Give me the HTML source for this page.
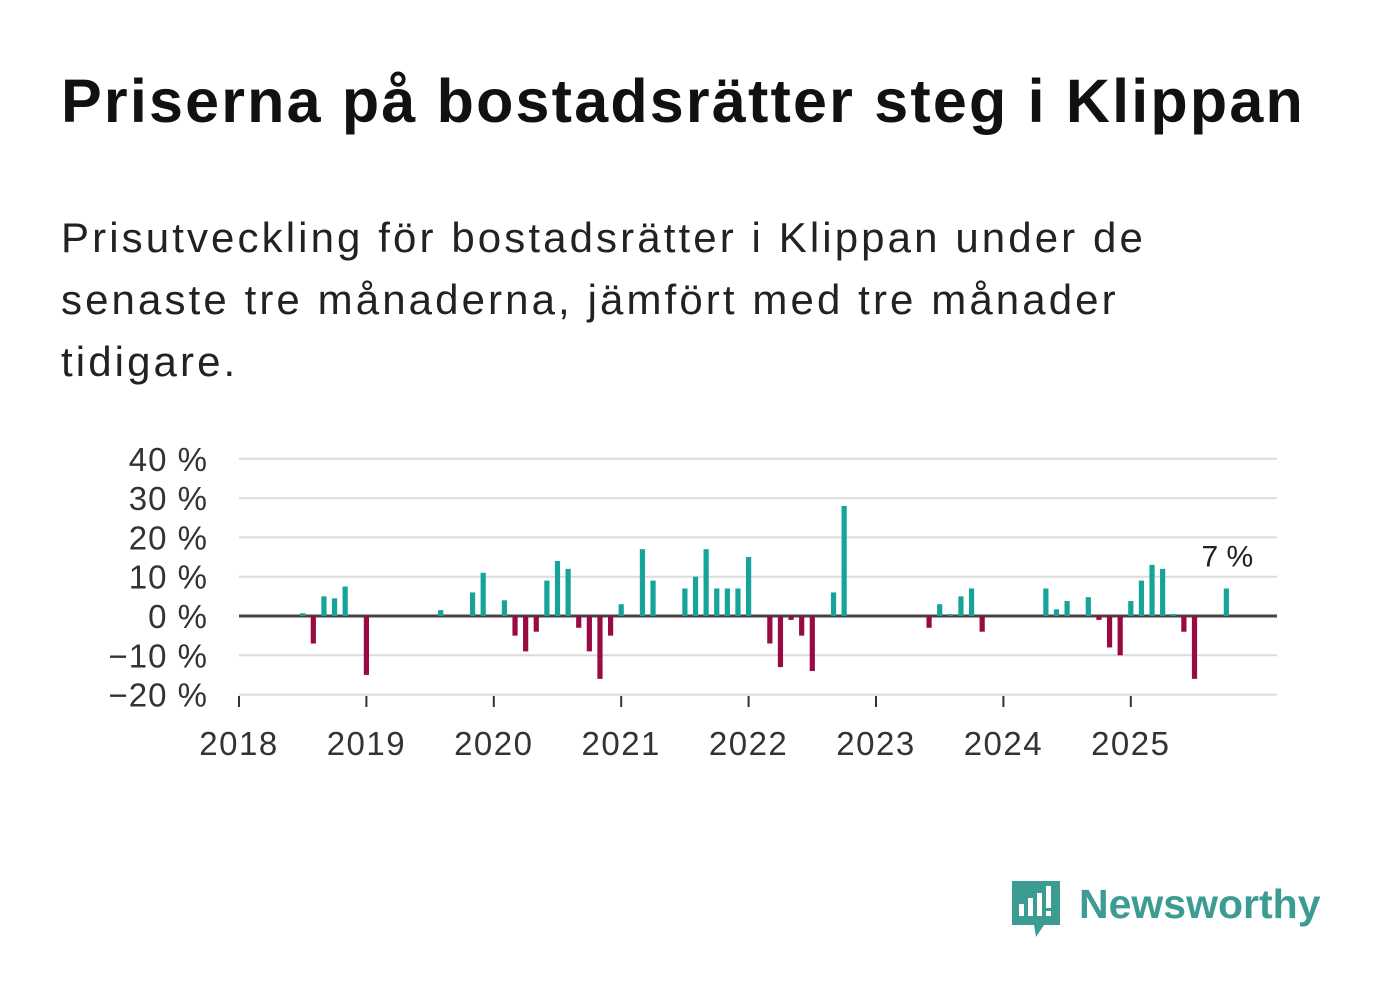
<!DOCTYPE html>
<html><head><meta charset="utf-8"><style>
body{margin:0;width:1382px;height:999px;background:#fff;overflow:hidden;font-family:"Liberation Sans","DejaVu Sans",sans-serif;color:#111}
h1{position:absolute;left:61px;top:66px;margin:0;font-size:61px;font-weight:bold;letter-spacing:2.2px;white-space:nowrap}
p{position:absolute;left:61px;top:207px;margin:0;font-size:42px;line-height:62px;letter-spacing:3.1px;white-space:nowrap;color:#222}
svg{position:absolute;left:0;top:0}
</style></head><body>
<h1>Priserna på bostadsrätter steg i Klippan</h1>
<p>Prisutveckling för bostadsrätter i Klippan under de<br>senaste tre månaderna, jämfört med tre månader<br>tidigare.</p>
<svg id="chart" width="1382" height="999"></svg>
<script>
const monthIndex=[6,7,8,9,10,12,19,22,23,25,26,27,28,29,30,31,32,33,34,35,36,38,39,42,43,44,45,46,47,48,50,51,52,53,54,56,57,65,66,67,68,69,70,76,77,78,80,81,82,83,84,85,86,87,88,89,90,93];
const values=[0.7,-7,5,4.5,7.5,-15,1.5,6,11,4,-5,-9,-4,9,14,12,-3,-9,-16,-5,3,17,9,7,10,17,7,7,7,15,-7,-13,-1,-5,-14,6,28,-3,3,0.5,5,7,-4,7,1.7,3.8,4.8,-1,-8,-10,3.8,9,13,12,0.5,-4,-16,7];
const yTicks=[40,30,20,10,0,-10,-20];
const years=[2018,2019,2020,2021,2022,2023,2024,2025];
const NS='http://www.w3.org/2000/svg';
const svg=document.getElementById('chart');
const x0=239,xMonth=127.4/12,y0=616,yPer=3.93;
const xs=m=>x0+m*xMonth, ys=v=>y0-v*yPer;
function mk(t,a,txt){const e=document.createElementNS(NS,t);for(const k in a)e.setAttribute(k,a[k]);if(txt!==undefined)e.textContent=txt;svg.appendChild(e);return e;}
yTicks.forEach(v=>{
  if(v!==0){const g=mk('line',{x1:x0,x2:1277,y1:ys(v),y2:ys(v),stroke:'#dcdcdc','stroke-width':2});
  
  }
  const t=mk('text',{x:208,y:ys(v)+12,'text-anchor':'end','font-size':33,'letter-spacing':1,fill:'#333'},(v<0?'\u2212'+(-v):v)+' %');
  
  
});
const ax=mk('line',{x1:x0,x2:1277,y1:y0,y2:y0,stroke:'#444','stroke-width':3});


years.forEach((yr,i)=>{
  const x=xs(i*12);
  const tk=mk('line',{x1:x,x2:x,y1:696,y2:707,stroke:'#333','stroke-width':2});
  
  
  const t=mk('text',{x:x,y:755,'text-anchor':'middle','font-size':33,'letter-spacing':1.5,fill:'#333'},yr);
  
  
});
monthIndex.forEach((m,i)=>{
  const v=values[i],x=xs(m);
  const r=mk('rect',{x:x-2.6,width:5.2,y:Math.min(ys(v),y0),height:Math.abs(ys(v)-y0),fill:v>=0?'#16a39a':'#990a43'});
  
  
});
const last=monthIndex.length-1;
const lb=mk('text',{x:xs(monthIndex[last])+1,y:ys(values[last])-22,'text-anchor':'middle','font-size':30,fill:'#222'},values[last]+' %');


</script>
<svg width="1382" height="999" style="pointer-events:none">
<path d="M1012 881h48v44h-16l-8 12-2-12h-22z" fill="#3d9c92"/>
<rect x="1019" y="904" width="5" height="12" fill="#fff"/><rect x="1028" y="898" width="5" height="18" fill="#fff"/><rect x="1037" y="893" width="5" height="23" fill="#fff"/><rect x="1046" y="886" width="5" height="22" fill="#fff"/><rect x="1046" y="911" width="5" height="5" fill="#fff"/>
<text x="1079" y="918" font-size="41" font-weight="bold" fill="#3d9c92" font-family="Liberation Sans, sans-serif">Newsworthy</text>
</svg>
</body></html>
